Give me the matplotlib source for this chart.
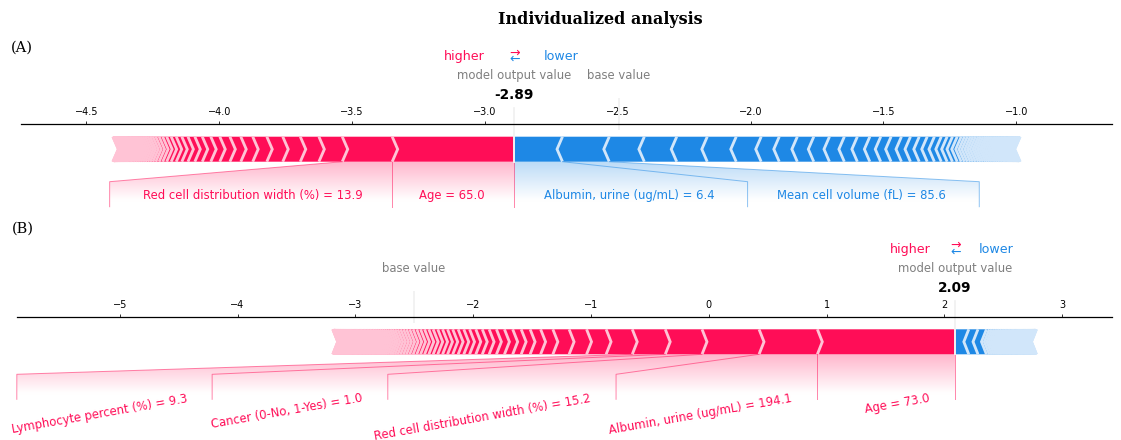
import numpy as np
import matplotlib
matplotlib.use("Agg")
import matplotlib.pyplot as plt
from matplotlib import lines
from matplotlib.path import Path
from matplotlib.patches import PathPatch, Polygon
from matplotlib.colors import LinearSegmentedColormap
from matplotlib.font_manager import FontProperties

# ---------------------------------------------------------------- data
# Panel A: SHAP contributions for one patient (model output -2.89)
out_value_a = -2.89
pos_labels_a = ["Age = 65.0", "Red cell distribution width (%) = 13.9"]
pos_effects_a = [0.459, 0.188, 0.088, 0.070, 0.066, 0.060, 0.053, 0.045, 0.041,
                 0.038, 0.034, 0.032, 0.028, 0.026, 0.023, 0.021, 0.019, 0.017,
                 0.015, 0.0135, 0.0125, 0.011, 0.010, 0.009, 0.009, 0.0085,
                 0.008, 0.0075, 0.007, 0.0068, 0.0064, 0.006, 0.0056, 0.0053,
                 0.005, 0.0048, 0.0045, 0.0042, 0.004, 0.0038, 0.0036, 0.0034,
                 0.0032, 0.003, 0.0028, 0.0026, 0.0024, 0.0022, 0.002, 0.0018,
                 0.0016, 0.0014, 0.0012, 0.001, 0.0009, 0.0008, 0.0007, 0.0006]
neg_labels_a = ["Albumin, urine (ug/mL) = 6.4", "Mean cell volume (fL) = 85.6"]
neg_effects_a = [-0.182, -0.176, -0.132, -0.122, -0.115, -0.109, -0.094, -0.068,
                 -0.068, -0.062, -0.059, -0.056, -0.049, -0.047, -0.041, -0.039,
                 -0.039, -0.034, -0.033, -0.030, -0.027, -0.026, -0.022, -0.020,
                 -0.018, -0.015, -0.012, -0.011, -0.011, -0.010, -0.010, -0.010,
                 -0.009, -0.009, -0.009, -0.008, -0.008, -0.008, -0.008, -0.007,
                 -0.007, -0.007, -0.006, -0.006, -0.006, -0.005, -0.005, -0.005,
                 -0.005, -0.004, -0.004, -0.004, -0.004, -0.003, -0.003, -0.003,
                 -0.003, -0.002, -0.002, -0.002, -0.002, -0.001, -0.001, -0.001,
                 -0.001]

# Panel B: SHAP contributions for a second patient (model output 2.09)
out_value_b = 2.09
pos_labels_b = ["Age = 73.0", "Albumin, urine (ug/mL) = 194.1",
                "Red cell distribution width (%) = 15.2",
                "Cancer (0-No, 1-Yes) = 1.0", "Lymphocyte percent (%) = 9.3"]
pos_effects_b = [1.169, 0.495, 0.484, 0.312, 0.280, 0.222, 0.166, 0.148, 0.138,
                 0.104, 0.089, 0.076, 0.072, 0.070, 0.068, 0.062, 0.058, 0.055,
                 0.053, 0.049, 0.048, 0.046, 0.044, 0.042, 0.041, 0.039, 0.037,
                 0.036, 0.034, 0.032, 0.031, 0.029, 0.027, 0.025, 0.025, 0.024,
                 0.023, 0.021, 0.020, 0.020, 0.019, 0.018, 0.017, 0.016, 0.016,
                 0.015, 0.015, 0.014, 0.014, 0.013, 0.013, 0.013, 0.013, 0.012,
                 0.012, 0.012, 0.011, 0.011, 0.011, 0.011, 0.010, 0.010, 0.010,
                 0.010, 0.009, 0.009, 0.009, 0.009, 0.008, 0.008, 0.008, 0.008,
                 0.007, 0.007, 0.007, 0.006, 0.006, 0.006, 0.005, 0.005, 0.005,
                 0.004, 0.004, 0.004, 0.003, 0.003, 0.003, 0.002, 0.002, 0.002,
                 0.001, 0.001, 0.001]
neg_labels_b = []
neg_effects_b = [-0.116, -0.078, -0.072, -0.024, -0.021, -0.019, -0.017, -0.016,
                 -0.015, -0.015, -0.014, -0.014, -0.013, -0.013, -0.012, -0.012,
                 -0.012, -0.011, -0.011, -0.011, -0.010, -0.010, -0.010, -0.010,
                 -0.009, -0.009, -0.009, -0.009, -0.008, -0.008, -0.008, -0.007,
                 -0.007, -0.007, -0.006, -0.006, -0.006, -0.005, -0.005, -0.005,
                 -0.004, -0.004, -0.003, -0.003, -0.002, -0.002, -0.001, -0.001]

# ---------------------------------------------------------------- style
S = 0.70                      # global scale for fonts and line widths
RED, RED_LIGHT = "#FF0D57", "#FFC3D5"
BLUE, BLUE_LIGHT = "#1E88E5", "#D1E6FA"
BAR_W = 0.1

W, H = 1121, 440
fig = plt.figure(figsize=(W / 100, H / 100), dpi=100)


def px_axes(left, right, top, bottom):
    return fig.add_axes([left / W, 1 - bottom / H, (right - left) / W, (bottom - top) / H])


def draw_bars(ax, out_value, effects, sep_w):
    pos = effects[0] > 0
    pre = out_value
    rects, seps = [], []
    for i, eff in enumerate(effects):
        if pos:
            left, right = pre - abs(eff), pre
            pre = left
            indent, sep_pos, cols = abs(sep_w), left, (RED, RED_LIGHT)
        else:
            left, right = pre, pre + abs(eff)
            pre = right
            indent, sep_pos, cols = -abs(sep_w), right, (BLUE, BLUE_LIGHT)
        if i == 0:
            if pos:
                pts = [[left, 0], [right, 0], [right, BAR_W], [left, BAR_W],
                       [left + indent, BAR_W / 2]]
            else:
                pts = [[right, 0], [left, 0], [left, BAR_W], [right, BAR_W],
                       [right + indent, BAR_W / 2]]
        else:
            pts = [[left, 0], [right, 0], [right + indent * 0.9, BAR_W / 2],
                   [right, BAR_W], [left, BAR_W], [left + indent * 0.9, BAR_W / 2]]
        rects.append(Polygon(pts, closed=True, fill=True, facecolor=cols[0], linewidth=0))
        seps.append(Polygon([[sep_pos, 0], [sep_pos + indent, BAR_W / 2], [sep_pos, BAR_W]],
                            closed=False, fill=False, edgecolor=cols[1], lw=2.9 * S))
    for p in rects + seps:
        ax.add_patch(p)


def draw_labels(ax, out_value, effects, names, offset, rotation):
    pos = effects[0] > 0
    if pos:
        col, ha, sign = RED, "right", 1
        rgb = np.array([(255, 13, 87), (255, 255, 255)]) / 255.0
        ln = lines.Line2D([out_value, out_value], [0, -0.18], lw=1.0 * S, alpha=0.5, color=col)
        ln.set_clip_on(False)
        ax.add_line(ln)
    else:
        col, ha, sign = BLUE, "left", -1
        rgb = np.array([(30, 136, 229), (255, 255, 255)]) / 255.0
    start_text = out_value
    pre_val = out_value
    box_end = out_value
    cum = out_value
    for eff, name in zip(effects, names):
        cum = cum - sign * abs(eff)
        val = cum
        txt = ax.text(start_text - sign * offset, -0.15, name, fontsize=12 * S, color=col,
                      ha=ha, va="top" if rotation else "baseline", rotation=rotation)
        txt.set_bbox(dict(facecolor="none", edgecolor="none", pad=4 * S))
        fig.canvas.draw()
        ext = txt.get_bbox_patch().get_extents().transformed(ax.transData.inverted())
        edge = ext.x0 if pos else ext.x1
        if sign * edge > sign * val:
            ln = lines.Line2D([val, val], [0, -0.18], lw=1.0 * S, alpha=0.5, color=col)
            start_text = val
            box_end = val
        else:
            box_end = edge - sign * offset
            ln = lines.Line2D([val, box_end, box_end], [0, -0.08, -0.18],
                              lw=1.0 * S, alpha=0.5, color=col)
            start_text = box_end
        ln.set_clip_on(False)
        ax.add_line(ln)
        pre_val = val

    lo, hi = ax.get_xlim()
    if box_end != out_value:
        path = Path([[out_value, 0], [pre_val, 0], [box_end, -0.08], [box_end, -0.2],
                     [out_value, -0.2], [out_value, 0]])
        patch = PathPatch(path, facecolor="none", edgecolor="none")
        ax.add_patch(patch)
        cm = LinearSegmentedColormap.from_list("shade", rgb)
        _, Z2 = np.meshgrid(np.linspace(0, 10), np.linspace(-10, 10))
        im = ax.imshow(Z2, interpolation="quadric", cmap=cm, vmax=0.01, alpha=0.3,
                       origin="lower", extent=[out_value, box_end, 0, -0.31],
                       aspect="auto")
        im.set_clip_path(patch)
    if box_end < lo:
        lo = box_end
    if box_end > hi:
        hi = box_end
    ax.set_xlim(lo, hi)
    ax.set_ylim(-0.5, 0.15)


def draw_panel(ax, out_value, pos_eff, pos_names, neg_eff, neg_names, xlim, sep_w,
               offset, rotation):
    ax.set_facecolor("none")
    ax.set_xlim(*xlim)
    ax.set_ylim(-0.5, 0.15)
    ax.tick_params(top=True, bottom=False, left=False, right=False, labelleft=False,
                   labeltop=True, labelbottom=False, labelsize=10 * S,
                   length=3.5 * S, width=0.8 * S, pad=3.5 * S)
    ax.locator_params(axis="x", nbins=12)
    for key, sp in ax.spines.items():
        sp.set_visible(key == "top")
    ax.spines["top"].set_linewidth(0.9)

    base_value = out_value - sum(pos_eff) - sum(neg_eff)

    draw_bars(ax, out_value, neg_eff, sep_w)
    draw_bars(ax, out_value, pos_eff, sep_w)

    draw_labels(ax, out_value, neg_eff, neg_names, offset, rotation)
    draw_labels(ax, out_value, pos_eff, pos_names, offset, rotation)

    # higher / lower legend
    ax.text(out_value - offset, 0.405, "higher", fontsize=13 * S, color=RED, ha="right")
    ax.text(out_value + offset, 0.405, "lower", fontsize=13 * S, color=BLUE, ha="left")
    ax.text(out_value, 0.4, r"$\leftarrow$", fontsize=13 * S, color=BLUE, ha="center")
    ax.text(out_value, 0.425, r"$\rightarrow$", fontsize=13 * S, color=RED, ha="center")

    # base value marker
    ln = lines.Line2D([base_value, base_value], [0.13, 0.25], lw=2.0 * S, color="#F2F2F2")
    ln.set_clip_on(False)
    ax.add_line(ln)
    t = ax.text(base_value, 0.33, "base value", fontsize=12 * S, alpha=0.5, ha="center")
    t.set_bbox(dict(facecolor="white", edgecolor="white", pad=4 * S))

    # model output marker
    ln = lines.Line2D([out_value, out_value], [0, 0.24], lw=2.0 * S, color="#F2F2F2")
    ln.set_clip_on(False)
    ax.add_line(ln)
    bold = FontProperties(weight="bold", size=14 * S)
    t = ax.text(out_value, 0.25, "{0:.2f}".format(out_value), fontproperties=bold,
                ha="center")
    t.set_bbox(dict(facecolor="white", edgecolor="white", pad=4 * S))
    t = ax.text(out_value, 0.33, "model output value", fontsize=12 * S, alpha=0.5,
                ha="center")
    t.set_bbox(dict(facecolor="white", edgecolor="white", pad=4 * S))


# ---------------------------------------------------------------- panels
ax_a = px_axes(21.4, 1111.8, 124.2, 286.7)
draw_panel(ax_a, out_value_a, pos_effects_a, pos_labels_a, neg_effects_a, neg_labels_a,
           xlim=(-4.745, -0.640), sep_w=0.0205, offset=0.111, rotation=0)

ax_b = px_axes(16.8, 1111.8, 316.8, 479.3)
draw_panel(ax_b, out_value_b, pos_effects_b, pos_labels_b, neg_effects_b, neg_labels_b,
           xlim=(-4.09, 3.42), sep_w=0.042, offset=0.204, rotation=10)

fig.text(600 / W, 1 - 19 / H, "Individualized analysis", ha="center", va="center",
         family="DejaVu Serif", weight="bold", fontsize=11.5)
fig.text(11 / W, 1 - 48 / H, "(A)", ha="left", va="center", family="DejaVu Serif",
         fontsize=10.5)
fig.text(12 / W, 1 - 229 / H, "(B)", ha="left", va="center", family="DejaVu Serif",
         fontsize=10.5)

fig.savefig("out.png", dpi=100)
